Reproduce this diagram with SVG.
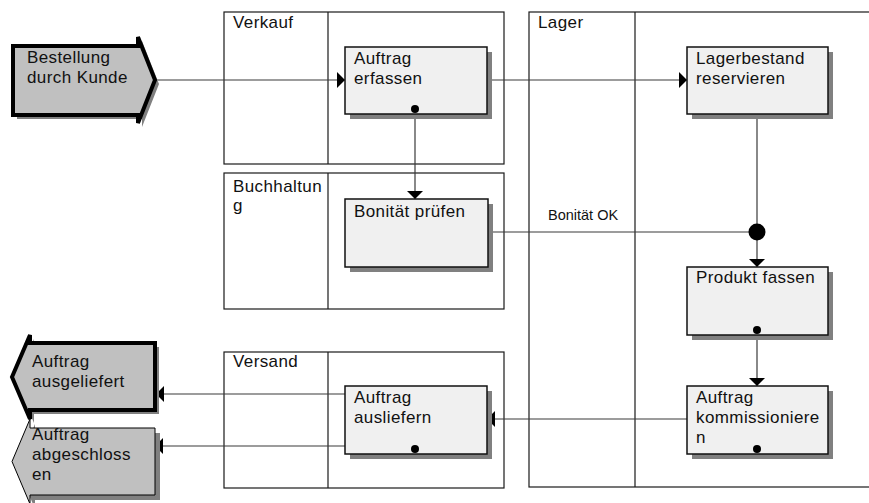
<svg xmlns="http://www.w3.org/2000/svg" width="869" height="503" viewBox="0 0 869 503">
  <style>
    .pool{fill:#fff;stroke:#1a1a1a;stroke-width:1.2}
    .lane{stroke:#1a1a1a;stroke-width:1.2}
    .t{font-family:"Liberation Sans",Arial,sans-serif;font-size:17px;letter-spacing:0.4px;fill:#111}
    .small{font-size:14.5px;letter-spacing:0}
    .box{fill:#f0f0f0;stroke:#111;stroke-width:1.5}
    .shadow{fill:#808080}
    .conn{stroke:#3a3a3a;stroke-width:1.2;fill:none}
    .dot{fill:#000}
    .ev{fill:#c0c0c0;stroke:#000;stroke-linejoin:miter}
    .ev-thick{stroke-width:4}
    .ev-thin{stroke-width:1}
  </style>
  <defs>
    <marker id="arrow" markerUnits="userSpaceOnUse" markerWidth="9" markerHeight="17" refX="8" refY="8" orient="auto" viewBox="0 0 9 17">
      <path d="M0,0 L8,8 L0,16 Z" fill="#000"/>
    </marker>
  </defs>

  <rect width="869" height="503" fill="#fff"/>

  <!-- swimlane pools -->
  <g id="pool-verkauf">
    <rect class="pool" x="224" y="12" width="280" height="152"/>
    <line class="lane" x1="328" y1="12" x2="328" y2="164"/>
    <text class="t" x="233" y="28">Verkauf</text>
  </g>
  <g id="pool-buchhaltung">
    <rect class="pool" x="224" y="173" width="280" height="136"/>
    <line class="lane" x1="328" y1="173" x2="328" y2="309"/>
    <text class="t" x="233" y="192">Buchhaltun</text>
    <text class="t" x="233" y="211">g</text>
  </g>
  <g id="pool-versand">
    <rect class="pool" x="224" y="352" width="280" height="136"/>
    <line class="lane" x1="328" y1="352" x2="328" y2="488"/>
    <text class="t" x="233" y="367">Versand</text>
  </g>
  <g id="pool-lager">
    <rect class="pool" x="529" y="12" width="360" height="475"/>
    <line class="lane" x1="635" y1="12" x2="635" y2="487"/>
    <text class="t" x="538" y="28">Lager</text>
  </g>

  <!-- connectors -->
  <g id="connectors">
    <line class="conn" x1="157" y1="80" x2="345" y2="80" marker-end="url(#arrow)"/>
    <line class="conn" x1="487" y1="80" x2="687" y2="80" marker-end="url(#arrow)"/>
    <line class="conn" x1="415" y1="109" x2="415" y2="199" marker-end="url(#arrow)"/>
    <line class="conn" x1="488" y1="232" x2="757" y2="232"/>
    <line class="conn" x1="757" y1="114" x2="757" y2="232"/>
    <line class="conn" x1="757" y1="232" x2="757" y2="267" marker-end="url(#arrow)"/>
    <line class="conn" x1="757" y1="330" x2="757" y2="386" marker-end="url(#arrow)"/>
    <line class="conn" x1="687" y1="419" x2="487" y2="419" marker-end="url(#arrow)"/>
    <line class="conn" x1="345" y1="394" x2="156" y2="394" marker-end="url(#arrow)"/>
    <line class="conn" x1="345" y1="446" x2="155" y2="446" marker-end="url(#arrow)"/>
    <circle class="dot" cx="757" cy="232" r="8.5"/>
    <text class="t small" x="548" y="220">Bonität OK</text>
  </g>

  <!-- start and end events -->
  <g id="ev-bestellung">
    <polygon class="shadow" points="17,50 142,50 142,41 159,84 142,127 142,119 17,119"/>
    <polygon class="ev ev-thick" points="13,46 138,46 138,37 155,80 138,123 138,115 13,115"/>
    <text class="t" x="27" y="63">Bestellung</text>
    <text class="t" x="27" y="83">durch Kunde</text>
  </g>
  <g id="ev-ausgeliefert">
    <polygon class="shadow" points="159,347 34,347 34,339 16,381 34,423 34,414 159,414"/>
    <polygon class="ev ev-thick" points="155,343 30,343 30,335 12,377 30,419 30,410 155,410"/>
    <text class="t" x="32" y="367">Auftrag</text>
    <text class="t" x="32" y="387">ausgeliefert</text>
  </g>
  <g id="ev-abgeschlossen">
    <polygon class="shadow" points="160,433 35,433 35,424 17,466 35,509 35,500 160,500"/>
    <polygon class="ev ev-thin" points="155,428 30,428 30,419 12,461.5 30,504 30,495 155,495"/>
    <text class="t" x="32" y="440">Auftrag</text>
    <text class="t" x="32" y="460">abgeschloss</text>
    <text class="t" x="32" y="480">en</text>
  </g>

  <!-- functions -->
  <g id="fn-auftrag-erfassen">
    <rect class="shadow" x="350" y="52" width="142" height="67"/>
    <rect class="box" x="345" y="47" width="142" height="67"/>
    <text class="t" x="354" y="64">Auftrag</text>
    <text class="t" x="354" y="84">erfassen</text>
    <circle class="dot" cx="415" cy="109" r="4"/>
  </g>
  <g id="fn-bonitaet">
    <rect class="shadow" x="350" y="204" width="143" height="68"/>
    <rect class="box" x="345" y="199" width="143" height="68"/>
    <text class="t" x="354" y="217">Bonität prüfen</text>
  </g>
  <g id="fn-auftrag-ausliefern">
    <rect class="shadow" x="350" y="391" width="142" height="68"/>
    <rect class="box" x="345" y="386" width="142" height="68"/>
    <text class="t" x="354" y="403">Auftrag</text>
    <text class="t" x="354" y="423">ausliefern</text>
    <circle class="dot" cx="415" cy="449" r="4"/>
  </g>
  <g id="fn-lagerbestand">
    <rect class="shadow" x="692" y="52" width="141" height="67"/>
    <rect class="box" x="687" y="47" width="141" height="67"/>
    <text class="t" x="696" y="64">Lagerbestand</text>
    <text class="t" x="696" y="84">reservieren</text>
  </g>
  <g id="fn-produkt-fassen">
    <rect class="shadow" x="692" y="272" width="141" height="68"/>
    <rect class="box" x="687" y="267" width="141" height="68"/>
    <text class="t" x="696" y="283">Produkt fassen</text>
    <circle class="dot" cx="757" cy="330" r="4"/>
  </g>
  <g id="fn-kommissionieren">
    <rect class="shadow" x="692" y="391" width="141" height="68"/>
    <rect class="box" x="687" y="386" width="141" height="68"/>
    <text class="t" x="696" y="403">Auftrag</text>
    <text class="t" x="696" y="423">kommissioniere</text>
    <text class="t" x="696" y="443">n</text>
    <circle class="dot" cx="757" cy="449" r="4"/>
  </g>
</svg>
